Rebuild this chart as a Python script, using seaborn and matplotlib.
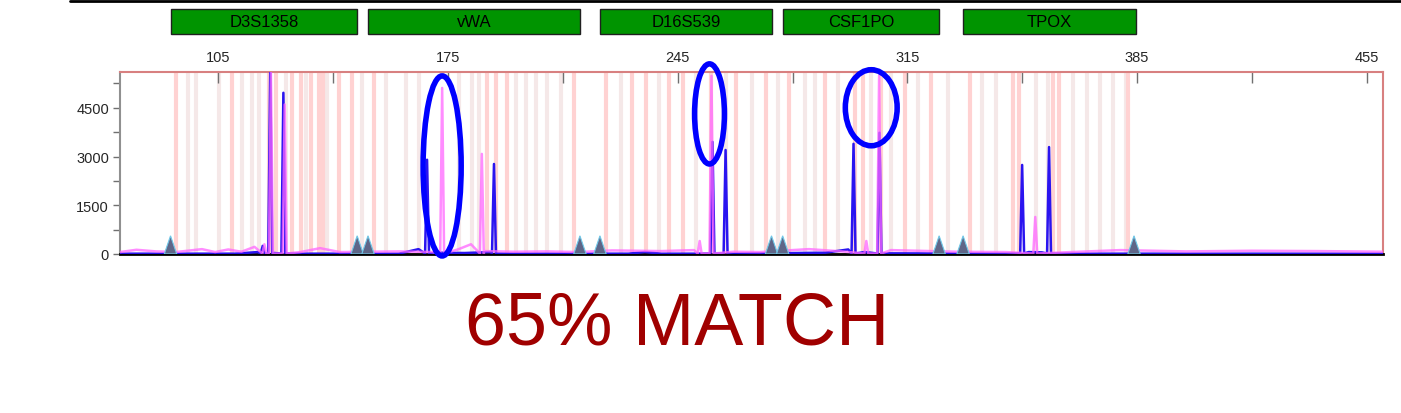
import numpy as np
import pandas as pd
import matplotlib
matplotlib.use("Agg")
import matplotlib.pyplot as plt
import matplotlib.transforms as mtransforms
from matplotlib.patches import Rectangle, Ellipse, Polygon
from matplotlib.lines import Line2D
import seaborn as sns

# ---- data ----
loci = ["D3S1358", "vWA", "D16S539", "CSF1PO", "TPOX"]
locus_start = [90.4, 150.6, 221.3, 277.0, 332.0]
locus_end = [147.3, 215.2, 273.9, 324.7, 384.7]

size_ticks = [105, 175, 245, 315, 385, 455]
size_minor = [140, 210, 280, 350, 420]
rfu_ticks = [0, 1500, 3000, 4500]

# blue dye peaks (size in bp, height in RFU)
blue_peak_bp = [118.5, 120.8, 124.8, 168.6, 189.0, 255.6, 259.6, 298.6, 306.5, 350.0, 358.2]
blue_peak_rfu = [250, 5700, 4960, 2900, 2770, 3450, 3200, 3390, 3730, 2740, 3290]
# blue baseline
blue_base_bp = [75, 110, 117, 122, 130, 160, 166, 172, 180, 188, 195, 230, 235, 240, 250, 262,
                290, 297, 302, 310, 345, 352, 356, 362, 460]
blue_base_rfu = [10, 10, 60, 30, 10, 10, 150, 40, 30, 60, 10, 10, 60, 10, 10, 10,
                 40, 140, 60, 20, 10, 60, 50, 10, 10]

# pink dye peaks
pink_peak_bp = [119.0, 121.0, 125.2, 173.2, 185.3, 251.7, 255.3, 302.5, 306.4, 354.0]
pink_peak_rfu = [300, 5600, 4600, 5110, 3080, 400, 5480, 400, 5500, 1140]
# pink baseline wiggle
pink_base_bp = [75, 80, 86, 92, 100, 104, 108, 112, 116, 130, 136, 142, 160, 170, 178, 182,
                186, 195, 205, 215, 225, 240, 250, 262, 270, 285, 295, 310, 330, 345, 365,
                380, 400, 420, 440, 460]
pink_base_rfu = [60, 130, 80, 60, 150, 60, 140, 70, 220, 60, 180, 60, 80, 60, 140, 300,
                 90, 70, 80, 60, 110, 90, 120, 70, 60, 150, 80, 120, 70, 60, 60,
                 120, 80, 100, 90, 70]

# bin / allele ladder markers
bins_strong = [92.2, 109.0, 120.5, 122.7, 127.5, 130.3, 133.3, 135.7, 137.0, 141.8, 145.8,
               152.5, 186.9, 189.6, 193.0, 213.4, 223.1, 231.0, 235.3, 242.3, 246.5, 255.3,
               262.7, 271.8, 278.8, 290.0, 299.2, 301.6, 307.1, 314.4, 322.3, 334.1, 347.3,
               349.1, 359.4, 361.2, 382.3]
bins_faint = [95.6, 98.3, 105.3, 112.3, 115.3, 117.5, 125.7, 131.8, 138.2, 148.8, 156.1,
              162.2, 166.2, 178.3, 182.3, 184.4, 195.7, 198.7, 201.8, 205.1, 209.4, 227.7,
              239.2, 250.5, 259.6, 267.5, 275.7, 283.9, 287.0, 294.0, 304.0, 310.1, 318.3,
              327.5, 337.8, 342.0, 354.2, 357.8, 365.4, 369.7, 373.7, 377.7, 381.6]

# size-standard triangles at locus edges
marker_bp = [90.4, 147.3, 150.6, 215.2, 221.3, 273.6, 277.0, 324.7, 332.0, 384.1]

# hand-drawn circles: centre bp, centre rfu, width bp, height rfu
circle_bp = [173.2, 254.7, 304.0]
circle_rfu = [2710, 4310, 4500]
circle_w = [11.6, 9.1, 15.8]
circle_h = [5540, 3080, 2340]

match_text = "65% MATCH"


def build_trace(base_x, base_y, peak_x, peak_y, half=0.5):
    pts = list(zip(base_x, base_y))
    for x, h in zip(peak_x, peak_y):
        pts += [(x - half, 15), (x, h), (x + half, 15)]
    pts.sort()
    return pd.DataFrame(pts, columns=["bp", "rfu"])


blue = build_trace(blue_base_bp, blue_base_rfu, blue_peak_bp, blue_peak_rfu, 0.6)
pink = build_trace(pink_base_bp, pink_base_rfu, pink_peak_bp, pink_peak_rfu, 0.6)

sns.set_style("white")
plt.rcParams["font.family"] = ["Liberation Sans", "DejaVu Sans"]

fig = plt.figure(figsize=(14.01, 4.14), dpi=100)
ax = fig.add_axes([120 / 1401, 1 - 255 / 414, (1383 - 120) / 1401, (255 - 73) / 414])

ax.set_xlim(75, 460)
ax.set_ylim(0, 5600)

ax.vlines(bins_faint, 0, 5600, color="#f5e8e8", lw=3, zorder=0)
ax.vlines(bins_strong, 0, 5600, color="#ffd2d2", lw=3, zorder=0)

ax.axhline(15, color="#f0a040", lw=1, zorder=1)
sns.lineplot(data=blue, x="bp", y="rfu", ax=ax, color="#2a14f0", lw=1.8,
             estimator=None, sort=False, zorder=3)
sns.lineplot(data=pink, x="bp", y="rfu", ax=ax, color="#ff66ff", lw=1.8, alpha=0.75,
             estimator=None, sort=False, zorder=4)

for m in marker_bp:
    ax.add_patch(Polygon([(m - 1.9, 0), (m + 1.9, 0), (m, 560)], closed=True,
                         facecolor="#5f6688", edgecolor="#70c8e8", lw=0.8, zorder=5))

for cx, cy, w, h in zip(circle_bp, circle_rfu, circle_w, circle_h):
    ax.add_patch(Ellipse((cx, cy), w, h, fill=False, edgecolor="#0000ff", lw=4,
                         clip_on=False, zorder=6))

# axes styling
ax.xaxis.tick_top()
ax.set_xticks(size_ticks)
ax.set_xticks(size_minor, minor=True)
ax.tick_params(axis="x", which="both", direction="in", length=8, width=1,
               color="#707070", labelsize=10.5, pad=6, top=True, bottom=False)
ax.set_yticks(rfu_ticks)
ax.set_yticks([750, 2250, 3750, 5250], minor=True)
ax.tick_params(axis="y", which="major", direction="out", length=5, width=1,
               color="#707070", labelsize=10.5, pad=3, left=True)
ax.tick_params(axis="y", which="minor", direction="out", length=5, width=1,
               color="#707070", left=True)
ax.set_xlabel("")
ax.set_ylabel("")
ax.spines["top"].set_color("#d88080")
ax.spines["right"].set_color("#d88080")
ax.spines["left"].set_color("#909090")
ax.spines["bottom"].set_color("black")
for s in ["top", "right", "left"]:
    ax.spines[s].set_linewidth(1.5)
ax.spines["bottom"].set_linewidth(2)

# locus boxes above the plot
trans = mtransforms.blended_transform_factory(ax.transData, fig.transFigure)
for name, a, b in zip(loci, locus_start, locus_end):
    ax.add_patch(Rectangle((a, 1 - 35 / 414), b - a, 25 / 414, transform=trans,
                           facecolor="#009400", edgecolor="#202020", lw=1, clip_on=False))
    ax.text((a + b) / 2, 1 - 22.5 / 414, name, transform=trans, ha="center", va="center",
            fontsize=12, color="black")

fig.add_artist(Line2D([70 / 1401, 1], [1 - 1.5 / 414, 1 - 1.5 / 414], color="black", lw=2))

fig.text(677.5 / 1401, 1 - 325 / 414, match_text, ha="center", va="center", fontsize=53,
         color="#a00000", family=["Liberation Sans", "DejaVu Sans"])

fig.savefig("out.png", dpi=100)
